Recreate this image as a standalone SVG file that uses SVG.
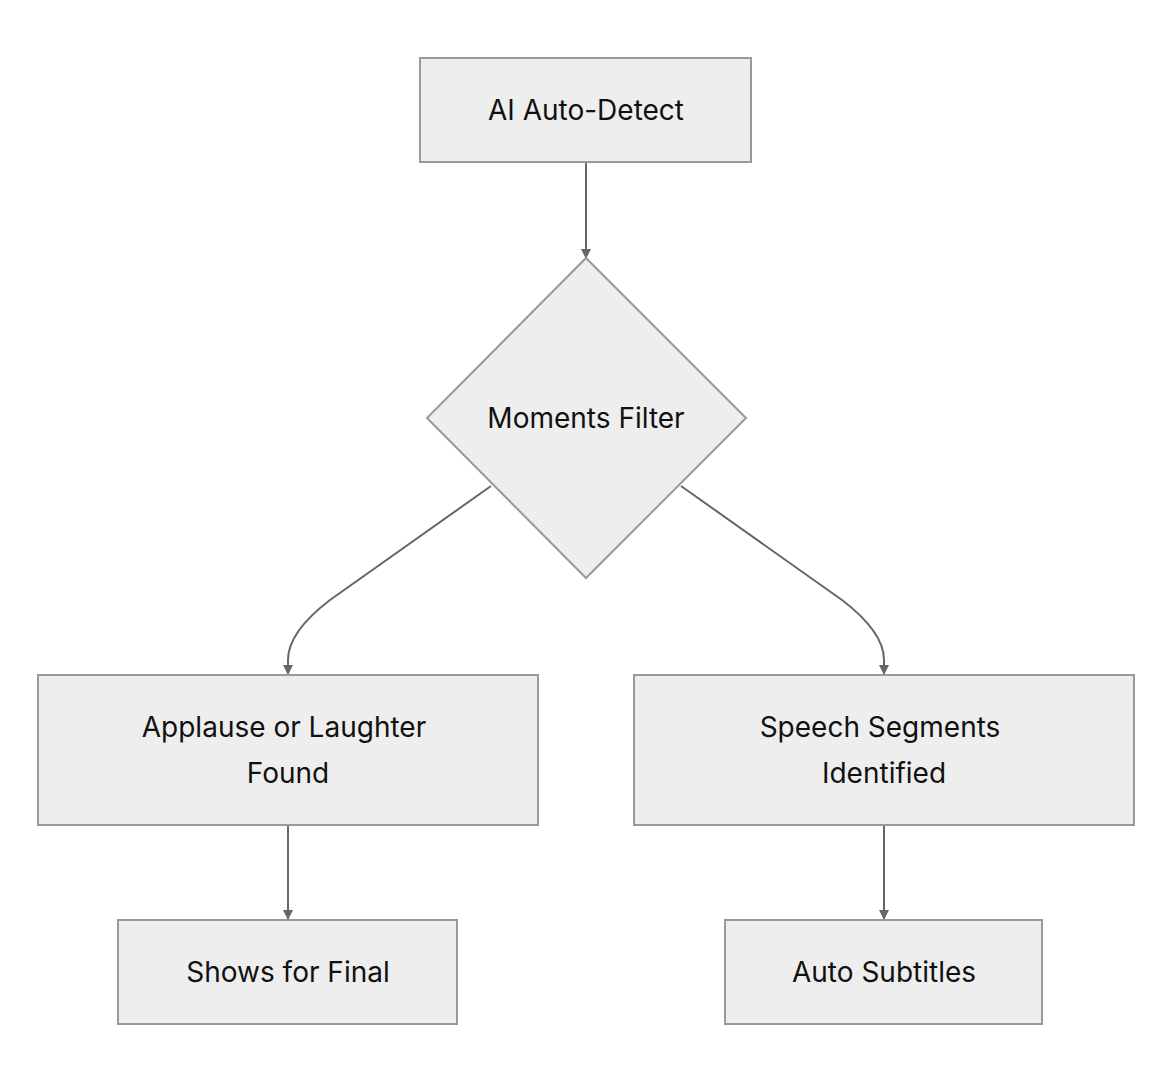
<svg xmlns="http://www.w3.org/2000/svg" width="1172" height="1084" viewBox="0 0 1172 1084">
<style>
.n{fill:#eeeeee;stroke:#999999;stroke-width:2}
.t{font-family:Inter,"Liberation Sans",sans-serif;font-size:28px;fill:#111;text-anchor:middle;dominant-baseline:central}
.e{fill:none;stroke:#666;stroke-width:2;marker-end:url(#a)}
</style>
<defs><marker id="a" markerWidth="10" markerHeight="10" refX="9" refY="5" orient="auto" markerUnits="userSpaceOnUse"><path d="M0,0L10,5L0,10z" fill="#666"/></marker></defs>
<rect width="1172" height="1084" fill="#fff"/>
<g id="edges">
<path class="e" d="M586,162L586,258"/>
<path class="e" d="M491,486L330,600Q288,632 288,660L288,674"/>
<path class="e" d="M681,486L842,600Q884,632 884,660L884,674"/>
<path class="e" d="M288,825L288,919"/>
<path class="e" d="M884,825L884,919"/>
</g>
<g id="n1"><rect class="n" x="420" y="58" width="331" height="104"/><text class="t" x="586" y="110">AI Auto-Detect</text></g>
<g id="n2"><polygon class="n" points="586,258 746,418 586,578 427,418"/><text class="t" x="586" y="418">Moments Filter</text></g>
<g id="n3"><rect class="n" x="38" y="675" width="500" height="150"/><text class="t" x="284" y="727">Applause or Laughter</text><text class="t" x="288" y="773">Found</text></g>
<g id="n4"><rect class="n" x="634" y="675" width="500" height="150"/><text class="t" x="880" y="727">Speech Segments</text><text class="t" x="884" y="773">Identified</text></g>
<g id="n5"><rect class="n" x="118" y="920" width="339" height="104"/><text class="t" x="288" y="972">Shows for Final</text></g>
<g id="n6"><rect class="n" x="725" y="920" width="317" height="104"/><text class="t" x="884" y="972">Auto Subtitles</text></g>
</svg>
